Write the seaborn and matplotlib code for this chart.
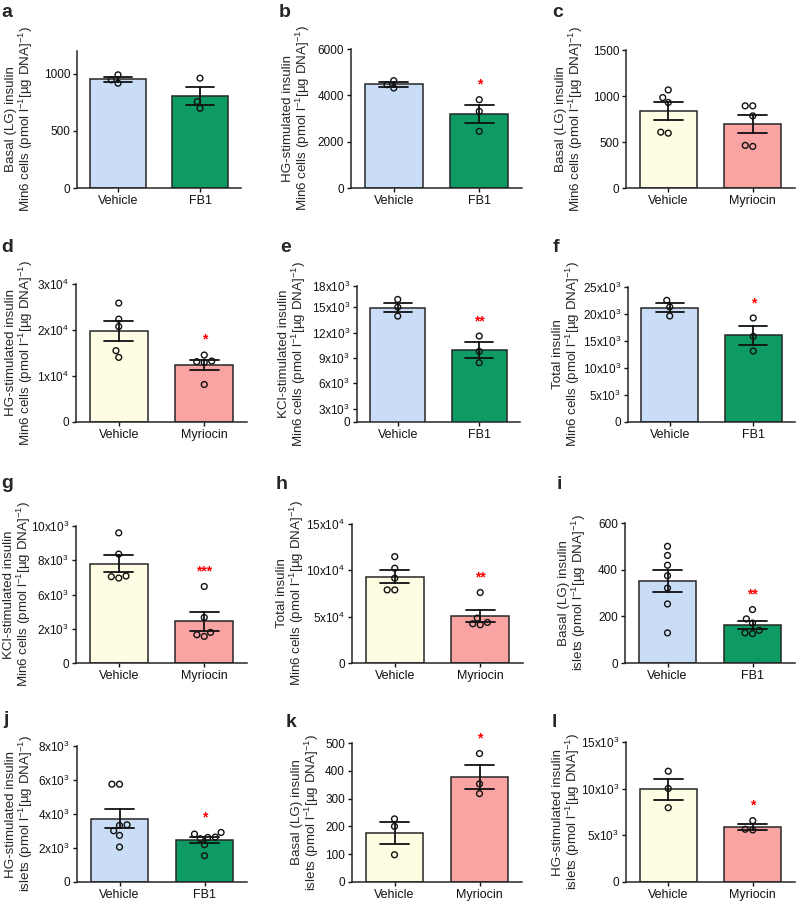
import numpy as np
import pandas as pd
import seaborn as sns
import matplotlib.pyplot as plt

# values, one list per bar
a_vehicle = [991, 918, 947]
a_fb1 = [962, 757, 698]
b_vehicle = [4633, 4317, 4460]
b_fb1 = [3813, 3309, 2446]
c_vehicle = [1066, 983, 929, 596, 607]
c_myriocin = [893, 893, 784, 452, 463]
d_vehicle = [25850, 22350, 20750, 15510, 14050]
d_myriocin = [14560, 12960, 13110, 13250, 8150]
e_vehicle = [15913, 15007, 13945]
e_fb1 = [11583, 9772, 8433]
f_vehicle = [22530, 21300, 19630]
f_fb1 = [19260, 15860, 13150]
g_vehicle = [9500, 7950, 6350, 6200, 6300]
g_myriocin = [5583, 3325, 2233, 1942, 2063]
h_vehicle = [114800, 102300, 91500, 78900, 78900]
h_myriocin = [76070, 43770, 41260, 42340, 48440]
i_vehicle = [500, 461, 419, 374, 321, 253, 129]
i_fb1 = [229, 189, 171, 140, 126, 129]
j_vehicle = [5753, 5753, 3326, 3366, 3013, 2740, 2055]
j_fb1 = [2916, 2818, 2544, 2642, 2622, 2192, 1546]
k_vehicle = [227, 200, 98]
k_myriocin = [462, 353, 318]
l_vehicle = [11870, 10020, 7960]
l_myriocin = [6575, 5580, 5650]

fb1_groups = ['Vehicle', 'FB1']
myr_groups = ['Vehicle', 'Myriocin']
fb1_colors = ['#C9DDF6', '#0E9A63']
myr_colors = ['#FEFDE3', '#F9A3A2']

unit_min6 = 'Min6 cells (pmol l$^{-1}$[µg DNA]$^{-1}$)'
unit_islets = 'islets (pmol l$^{-1}$[µg DNA]$^{-1}$)'


def sci(v, e):
    return '0' if v == 0 else f'{v / 10**e:g}x10$^{{{e}}}$'


def sci_ticks(vals, e):
    return [sci(v, e) for v in vals]


panels = [
    dict(tag='a', vals=(a_vehicle, a_fb1), groups=fb1_groups, colors=fb1_colors,
         ylabel='Basal (LG) insulin\n' + unit_min6, ylim=(0, 1200),
         ticks=[0, 500, 1000], labels=['0', '500', '1000'], star=''),
    dict(tag='b', vals=(b_vehicle, b_fb1), groups=fb1_groups, colors=fb1_colors,
         ylabel='HG-stimulated insulin\n' + unit_min6, ylim=(0, 6000),
         ticks=[0, 2000, 4000, 6000], labels=['0', '2000', '4000', '6000'], star='*'),
    dict(tag='c', vals=(c_vehicle, c_myriocin), groups=myr_groups, colors=myr_colors,
         ylabel='Basal (LG) insulin\n' + unit_min6, ylim=(0, 1500),
         ticks=[0, 500, 1000, 1500], labels=['0', '500', '1000', '1500'], star=''),
    dict(tag='d', vals=(d_vehicle, d_myriocin), groups=myr_groups, colors=myr_colors,
         ylabel='HG-stimulated insulin\n' + unit_min6, ylim=(0, 30000),
         ticks=[0, 10000, 20000, 30000], labels=sci_ticks([0, 10000, 20000, 30000], 4), star='*'),
    dict(tag='e', vals=(e_vehicle, e_fb1), groups=fb1_groups, colors=fb1_colors,
         ylabel='KCl-stimulated insulin\n' + unit_min6, ylim=(1430, 17500),
         ticks=[1430, 3000, 6000, 9000, 12000, 15000, 17500],
         labels=['0'] + sci_ticks([3000, 6000, 9000, 12000, 15000, 18000], 3), star='**'),
    dict(tag='f', vals=(f_vehicle, f_fb1), groups=fb1_groups, colors=fb1_colors,
         ylabel='Total insulin\n' + unit_min6, ylim=(0, 25000),
         ticks=[0, 5000, 10000, 15000, 20000, 25000],
         labels=sci_ticks([0, 5000, 10000, 15000, 20000, 25000], 3), star='*'),
    dict(tag='g', vals=(g_vehicle, g_myriocin), groups=myr_groups, colors=myr_colors,
         ylabel='KCl-stimulated insulin\n' + unit_min6, ylim=(0, 10000),
         ticks=[0, 2500, 5000, 7500, 10000],
         labels=['0'] + sci_ticks([2000, 6000, 8000, 10000], 3), star='***'),
    dict(tag='h', vals=(h_vehicle, h_myriocin), groups=myr_groups, colors=myr_colors,
         ylabel='Total insulin\n' + unit_min6, ylim=(0, 150000),
         ticks=[0, 50000, 100000, 150000], labels=sci_ticks([0, 50000, 100000, 150000], 4), star='**'),
    dict(tag='i', vals=(i_vehicle, i_fb1), groups=fb1_groups, colors=fb1_colors,
         ylabel='Basal (LG) insulin\n' + unit_islets, ylim=(0, 600),
         ticks=[0, 200, 400, 600], labels=['0', '200', '400', '600'], star='**'),
    dict(tag='j', vals=(j_vehicle, j_fb1), groups=fb1_groups, colors=fb1_colors,
         ylabel='HG-stimulated insulin\n' + unit_islets, ylim=(0, 8000),
         ticks=[0, 2000, 4000, 6000, 8000], labels=sci_ticks([0, 2000, 4000, 6000, 8000], 3), star='*'),
    dict(tag='k', vals=(k_vehicle, k_myriocin), groups=myr_groups, colors=myr_colors,
         ylabel='Basal (LG) insulin\n' + unit_islets, ylim=(0, 500),
         ticks=[0, 100, 200, 300, 400, 500], labels=['0', '100', '200', '300', '400', '500'], star='*'),
    dict(tag='l', vals=(l_vehicle, l_myriocin), groups=myr_groups, colors=myr_colors,
         ylabel='HG-stimulated insulin\n' + unit_islets, ylim=(0, 15000),
         ticks=[0, 5000, 10000, 15000], labels=sci_ticks([0, 5000, 10000, 15000], 3), star='*'),
]

# pixel layout: axes (left, right, top, bottom), panel letter (x, baseline),
# and x of the centre of the two-line y label
layout = {
    'a': ((77, 241, 51, 188), (1, 17), 20),
    'b': ((351, 522, 49, 188), (279, 17), 297),
    'c': ((626, 795, 50, 188), (552, 17), 570),
    'd': ((76, 247, 284, 422), (1, 252), 20),
    'e': ((357, 520, 286, 422), (280, 252), 293),
    'f': ((628, 795, 287, 422), (553, 252), 567),
    'g': ((76, 247, 526, 663), (1, 488), 18),
    'h': ((352, 523, 524, 663), (276, 489), 291),
    'i': ((625, 795, 523, 663), (557, 489), 573),
    'j': ((77, 247, 746, 882), (3, 724), 20),
    'k': ((352, 522, 743, 882), (286, 727), 306),
    'l': ((626, 795, 742, 882), (552, 727), 567),
}

sns.set_theme(style='ticks')
plt.rcParams['font.family'] = ['Liberation Sans', 'DejaVu Sans']
plt.rcParams['mathtext.fontset'] = 'custom'
plt.rcParams['mathtext.rm'] = 'Liberation Sans'
plt.rcParams['mathtext.it'] = 'Liberation Sans:italic'
plt.rcParams['mathtext.bf'] = 'Liberation Sans:bold'
plt.rcParams['mathtext.default'] = 'regular'

W, H = 800, 902
fig = plt.figure(figsize=(W / 100, H / 100), dpi=100)

for p in panels:
    (l, r, t, b), (lx, ly), labx = layout[p['tag']]
    ax = fig.add_axes([l / W, 1 - b / H, (r - l) / W, (b - t) / H])
    v0, v1 = p['vals']
    df = pd.DataFrame({'group': [p['groups'][0]] * len(v0) + [p['groups'][1]] * len(v1),
                       'value': v0 + v1})
    sns.barplot(data=df, x='group', y='value', hue='group', order=p['groups'],
                hue_order=p['groups'], palette=p['colors'], legend=False, saturation=1,
                errorbar='se', capsize=0.34, width=0.68, edgecolor='#262626',
                linewidth=1.1, err_kws={'color': '#111111', 'linewidth': 1.3}, ax=ax)
    sns.swarmplot(data=df, x='group', y='value', order=p['groups'], color='white',
                  edgecolor='#111111', linewidth=1.0, size=4.2, ax=ax)
    for coll in ax.collections:
        coll.set_facecolor('none')
        coll.set_zorder(4)

    ax.set_xlim(-0.5, 1.5)
    ax.set_ylim(*p['ylim'])
    ax.set_yticks(p['ticks'])
    ax.set_yticklabels(p['labels'])
    ax.set_xlabel('')
    ax.set_ylabel(p['ylabel'], fontsize=9.6, linespacing=1.0)
    ax.yaxis.label.set_verticalalignment('center')
    ax.yaxis.set_label_coords((labx - l) / (r - l), 0.5)
    ax.tick_params(axis='y', direction='out', length=3, width=1,
                   labelsize=8.5, pad=2, colors='#111111')
    ax.tick_params(axis='x', direction='out', length=3, width=1,
                   labelsize=9, pad=2, colors='#111111')
    sns.despine(ax=ax)
    for s in ['left', 'bottom']:
        ax.spines[s].set_linewidth(1.1)
        ax.spines[s].set_color('#262626')

    if p['star']:
        lo, hi = p['ylim']
        ax.text(1, max(v1) + 0.11 * (hi - lo), p['star'], color='red',
                ha='center', va='center', fontsize=10, fontweight='bold')

    fig.text(lx / W, 1 - ly / H, p['tag'], fontsize=14, fontweight='bold',
             ha='left', va='baseline')

fig.savefig('out.png', dpi=100)
